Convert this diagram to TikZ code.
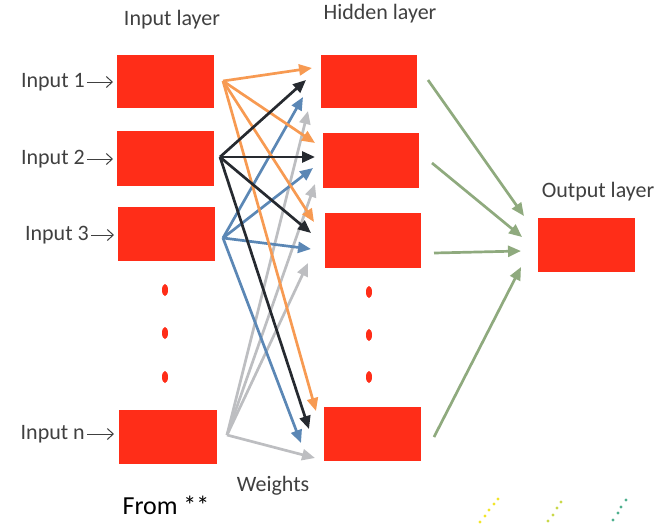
\documentclass[tikz,border=0pt]{standalone}
\usepackage{fontspec}
\setmainfont{Carlito}
\usetikzlibrary{arrows.meta}
\definecolor{boxred}{HTML}{FF2D18}
\definecolor{worange}{HTML}{F79A52}
\definecolor{wblack}{HTML}{262A30}
\definecolor{wblue}{HTML}{5B87B5}
\definecolor{wgray}{HTML}{BDBEC1}
\definecolor{wgreen}{HTML}{8FAA7E}
\definecolor{txt}{HTML}{404040}
\definecolor{dotyellow}{HTML}{F2E52A}
\definecolor{dotlime}{HTML}{C9D84A}
\definecolor{dotteal}{HTML}{4FB08E}
\tikzset{
  unitbox/.style={fill=boxred, draw=none, inner sep=0pt, minimum width=97pt, minimum height=54pt},
  reddot/.style={fill=boxred},
  lbl/.style={text=txt, font=\fontsize{22}{26}\selectfont, inner sep=0pt},
  wline/.style={line width=2.7pt, -{Triangle[length=13pt,width=11pt]}},
  inarrow/.style={draw=txt, line width=1pt, -{Straight Barb[length=6pt,width=11pt]}},
  artdot/.style={inner sep=0pt, minimum size=3.4pt, circle}
}
\begin{document}
\begin{tikzpicture}[x=1pt,y=-1pt]
\useasboundingbox (0,0) rectangle (663,523);
% input layer
\node[unitbox, minimum height=53pt] (in1) at (165.5,81.5) {};
\node[unitbox, minimum height=55pt] (in2) at (165.5,158.5) {};
\node[unitbox] (in3) at (166.5,234) {};
\node[unitbox, minimum width=98pt] (inn) at (168,437) {};
% hidden layer
\node[unitbox, minimum width=96pt, minimum height=53pt] (h1) at (369,81.5) {};
\node[unitbox, minimum width=96pt, minimum height=55pt] (h2) at (371,160.5) {};
\node[unitbox, minimum width=96pt, minimum height=55pt] (h3) at (373,240.5) {};
\node[unitbox] (hn) at (372.5,434) {};
% output
\node[unitbox] (out) at (586.5,245) {};
% dots
\foreach \y in {290,333,377} { \fill[reddot] (165,\y) ellipse (3pt and 6pt); }
\foreach \y in {292,335,377} { \fill[reddot] (369,\y) ellipse (3pt and 6pt); }
% titles
\node[lbl] (tin) at (172,20) {Input layer};
\node[lbl] (thid) at (380,14) {Hidden layer};
\node[lbl] (tout) at (598,192) {Output layer};
\node[lbl] (tw) at (273,486) {Weights};
\node[text=black, inner sep=0pt, anchor=base, font=\fontsize{26}{30}\selectfont] (from) at (166,514) {From **};
% input labels
\node[lbl, anchor=east] (l1) at (85,82) {Input 1};
\node[lbl, anchor=east] (l2) at (85,159) {Input 2};
\node[lbl, anchor=east] (l3) at (89,235) {Input 3};
\node[lbl, anchor=east] (ln) at (85,434) {Input n};
\draw[inarrow] (l1.east) ++(2,0) coordinate (l1s) -- (113,82) coordinate (l1e);
\draw[inarrow] (l2.east) ++(2,0) coordinate (l2s) -- (113,159) coordinate (l2e);
\draw[inarrow] (l3.east) ++(2,0) coordinate (l3s) -- (114,235) coordinate (l3e);
\draw[inarrow] (ln.east) ++(2,0) coordinate (lns) -- (114,434) coordinate (lne);
% weight sources
\coordinate (s1) at (223,81);
\coordinate (s2) at (220,157);
\coordinate (s3) at (223,238);
\coordinate (sn) at (227,435);
% targets
\coordinate (o1) at (312,68);  \coordinate (o2) at (315,143); \coordinate (o3) at (314,222); \coordinate (on) at (316,411);
\coordinate (b1) at (306,80);  \coordinate (b2) at (315,157); \coordinate (b3) at (311,233); \coordinate (bn) at (309,429);
\coordinate (u1) at (303,97);  \coordinate (u2) at (313,168); \coordinate (u3) at (311,249); \coordinate (un) at (301,443);
\coordinate (g1) at (308,111); \coordinate (g2) at (315,184); \coordinate (g3) at (308,263); \coordinate (gn) at (315,458);
% gray first (behind)
\foreach \t in {g1,g2,g3,gn} { \draw[wline, wgray] (sn) -- (\t); }
\foreach \t in {u1,u2,u3,un} { \draw[wline, wblue] (s3) -- (\t); }
\foreach \t in {on,o2,o3,o1} { \draw[wline, worange] (s1) -- (\t); }
\foreach \t in {b1,b2,b3,bn} { \draw[wline, wblack] (s2) -- (\t); }
% output connections
\coordinate (q1) at (428,80);  \coordinate (r1) at (524,216);
\coordinate (q2) at (432,163); \coordinate (r2) at (522,237);
\coordinate (q3) at (434,253); \coordinate (r3) at (521,251);
\coordinate (q4) at (434,437); \coordinate (r4) at (521,267);
\foreach \a/\b in {q1/r1,q2/r2,q3/r3,q4/r4} { \draw[wline, wgreen] (\a) -- (\b); }
% artifact dots
\foreach \p in {(480,522),(485,516),(489,510),(494,504),(498,499)} { \node[artdot, fill=dotyellow] at \p {}; }
\foreach \p in {(548,521),(553,515),(557,508),(561,502)} { \node[artdot, fill=dotlime] at \p {}; }
\foreach \p in {(613,520),(618,513),(621,507),(626,500)} { \node[artdot, fill=dotteal] at \p {}; }
\end{tikzpicture}
\end{document}
